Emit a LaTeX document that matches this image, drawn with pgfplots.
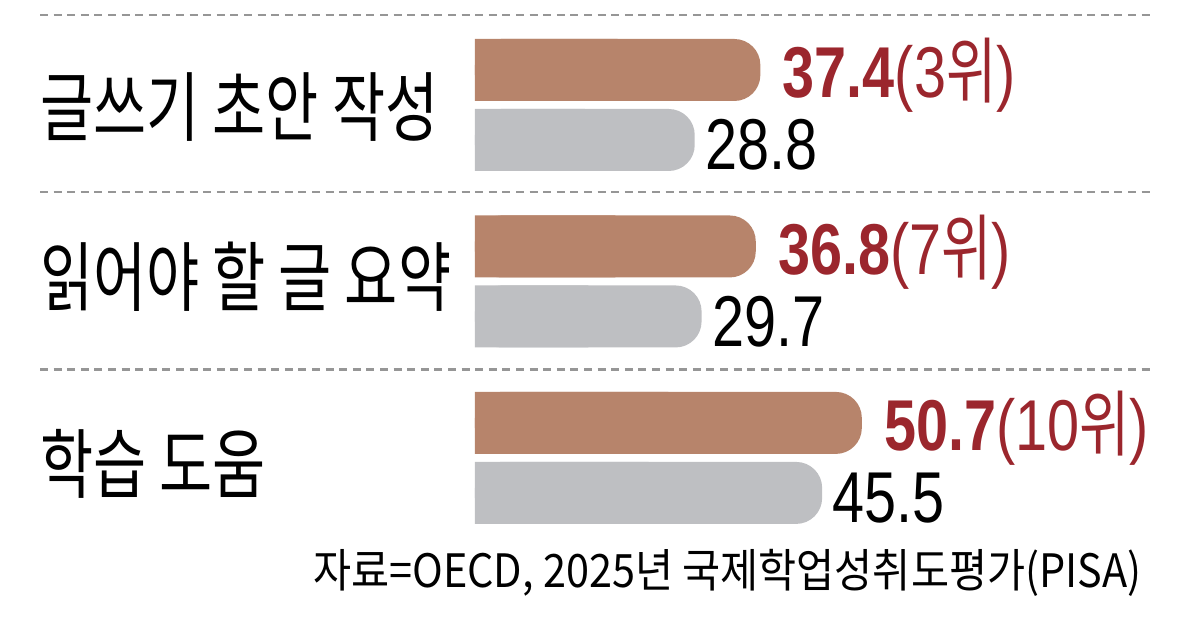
\documentclass[border=0pt]{standalone}
\usepackage{pgfplots}
\pgfplotsset{compat=1.18}
\usepackage{fontspec}
\setmainfont{Liberation Sans}[FakeStretch=0.8]
\newfontfamily\kr{Noto Sans CJK KR}[FakeStretch=0.76]
\newfontfamily\krsrc{Noto Sans CJK KR}[FakeStretch=0.9]
\definecolor{barbrown}{RGB}{183,132,107}
\definecolor{bargray}{RGB}{190,191,194}
\definecolor{valred}{RGB}{155,38,45}
\definecolor{sepgray}{RGB}{150,150,150}

\begin{document}
\begin{tikzpicture}
\begin{axis}[
    scale only axis,
    width=600pt, height=315pt,
    xmin=-62.25, xmax=95.02,
    ymin=-0.975, ymax=2.595,
    axis lines=none,
    clip=false,
    xbar,
    bar width=31pt,
]
% separators
\draw[sepgray, line width=1.4pt, dash pattern=on 4pt off 2.8pt]
    (axis cs:-57,2.51) -- (axis cs:89.1,2.51);
\draw[sepgray, line width=1.4pt, dash pattern=on 4pt off 2.8pt]
    (axis cs:-57,1.507) -- (axis cs:89.1,1.507);
\draw[sepgray, line width=1.4pt, dash pattern=on 4pt off 2.8pt]
    (axis cs:-57,0.499) -- (axis cs:89.1,0.499);

% square left halves of the bars
\addplot[draw=none, fill=barbrown, bar shift=17.5pt, x filter/.expression={x/2}, forget plot]
    coordinates {(37.4,2) (36.8,1) (50.7,0)};
\addplot[draw=none, fill=bargray, bar shift=-17.5pt, x filter/.expression={x/2}, forget plot]
    coordinates {(28.8,2) (29.7,1) (45.5,0)};

% rounded bars with labels
\addplot[draw=none, fill=barbrown, bar shift=17.5pt, rounded corners=13pt,
    nodes near coords, point meta=explicit symbolic,
    nodes near coords style={anchor=base west, inner sep=0pt, xshift=11pt, yshift=-14pt,
        text=valred, font=\fontsize{36}{36}\selectfont}]
    coordinates {(37.4,2) [\textbf{37.4}(3{\kr 위})]
                 (36.8,1) [\textbf{36.8}(7{\kr 위})]
                 (50.7,0) [\textbf{50.7}(10{\kr 위})]};
\addplot[draw=none, fill=bargray, bar shift=-17.5pt, rounded corners=13pt,
    nodes near coords, point meta=explicit symbolic,
    nodes near coords style={anchor=base west, inner sep=0pt, xshift=5pt, yshift=-15pt,
        text=black, font=\fontsize{36}{36}\selectfont}]
    coordinates {(28.8,2) [28.8] (29.7,1) [29.7] (45.5,0) [45.5]};

% category labels
\node[anchor=base west, inner sep=0pt, yshift=-14.5pt, font=\kr\fontsize{38}{38}\selectfont]
    at (axis cs:-57,1.989) {글쓰기 초안 작성};
\node[anchor=base west, inner sep=0pt, yshift=-14.5pt, font=\kr\fontsize{38}{38}\selectfont]
    at (axis cs:-57,1.026) {읽어야 할 글 요약};
\node[anchor=base west, inner sep=0pt, yshift=-14.5pt, font=\kr\fontsize{38}{38}\selectfont]
    at (axis cs:-57,-0.034) {학습 도움};

% source
\node[anchor=base east, inner sep=0pt, font=\krsrc\fontsize{23}{23}\selectfont]
    at (axis cs:87.4,-0.7365) {자료=OECD, 2025년 국제학업성취도평가(PISA)};

\draw[draw=none] (rel axis cs:0,0) rectangle (rel axis cs:1,1);
\end{axis}
\end{tikzpicture}
\end{document}
